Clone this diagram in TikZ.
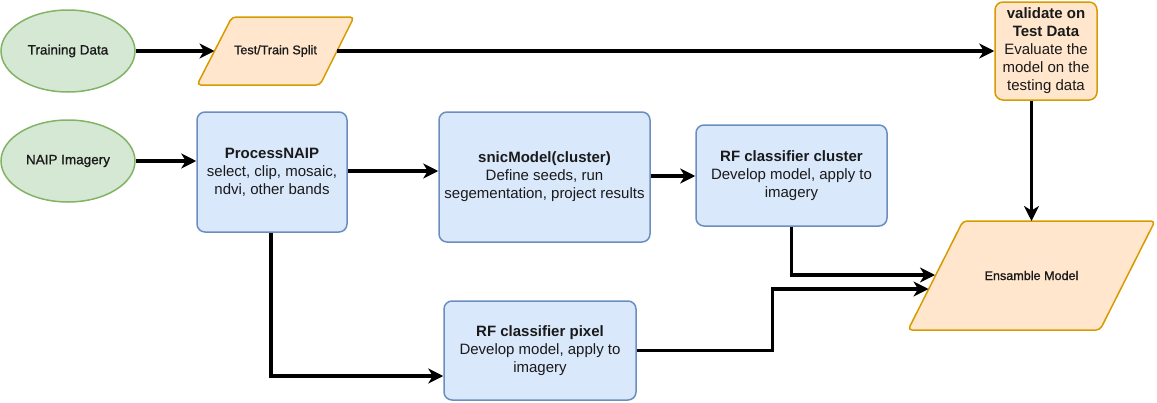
\documentclass[tikz,border=0pt]{standalone}
\usepackage{fontspec}
\setmainfont{Liberation Sans}
\newfontfamily\medfont[FakeBold=1]{Liberation Sans}
\usetikzlibrary{shapes.geometric,arrows.meta,calc}
\definecolor{gfill}{HTML}{D5E8D4}
\definecolor{gline}{HTML}{82B366}
\definecolor{bfill}{HTML}{DAE8FC}
\definecolor{bline}{HTML}{6C8EBF}
\definecolor{ofill}{HTML}{FFE6CC}
\definecolor{oline}{HTML}{D79B00}
\definecolor{txt}{HTML}{1A1A1A}
\tikzset{
  oval/.style={ellipse, draw=gline, fill=gfill, line width=1.5pt, minimum width=134pt, minimum height=82pt, inner sep=0pt, text=txt, font=\medfont\fontsize{13.5}{16}\selectfont},
  pbox/.style={draw=bline, fill=bfill, rounded corners=8pt, line width=1.5pt, inner sep=0pt, align=center, text=txt, font=\fontsize{15}{18}\selectfont},
  vbox/.style={draw=oline, fill=ofill, rounded corners=8pt, line width=1.5pt, inner sep=0pt, align=center, text=txt, font=\fontsize{15}{18}\selectfont},
  parashape/.style={draw=oline, fill=ofill, rounded corners=4pt, line width=1.5pt},
  ptext/.style={inner sep=0pt, text=txt, font=\medfont\fontsize{12.6}{15}\selectfont},
  arr/.style={line width=3.3pt, -{Stealth[length=15pt, width=15pt, inset=4.5pt]}, black}
}
\begin{document}
\begin{tikzpicture}[x=1pt, y=-1pt]
\useasboundingbox (0,0) rectangle (1157,402);

\node[oval] (train) at (68,51) {Training Data};
\node[oval] (naip) at (68,161) {NAIP Imagery};

\draw[parashape] (197,85) -- (232,17) -- (354,17) -- (320,85) -- cycle;
\node[ptext] (split) at (275.5,51) {Test/Train Split};
\coordinate (splitin) at (214.5,51);
\coordinate (splitout) at (337,51);

\node[vbox, minimum width=102pt, minimum height=98pt] (val) at (1046,51) {\textbf{validate on}\\\textbf{Test Data}\\Evaluate the\\model on the\\testing data};
\node[pbox, minimum width=150pt, minimum height=120pt] (proc) at (272,172) {\textbf{ProcessNAIP}\\select, clip, mosaic,\\ndvi, other bands};
\node[pbox, minimum width=211pt, minimum height=130pt] (snic) at (544.5,177) {\textbf{snicModel(cluster)}\\Define seeds, run\\segementation, project results};
\node[pbox, minimum width=191pt, minimum height=101pt] (rfc) at (791.5,175.5) {\textbf{RF classifier cluster}\\Develop model, apply to\\imagery};
\node[pbox, minimum width=192pt, minimum height=99pt] (rfp) at (540,350.5) {\textbf{RF classifier pixel}\\Develop model, apply to\\imagery};

\draw[parashape] (908,330) -- (963,221) -- (1155,221) -- (1100,330) -- cycle;
\node[ptext] (ens) at (1031.5,275.5) {Ensamble Model};
\coordinate (enstop) at (1031.5,221);
\coordinate (ensa) at (935,275);
\coordinate (ensb) at (928.5,289);

\draw[arr] (train.east) -- (splitin);
\draw[arr] (splitout) -- (val.west);
\draw[arr] (naip.east) -- (naip.east -| proc.west);
\draw[arr] ($(proc.east)+(0,-1)$) -- ($(proc.east -| snic.west)+(0,-1)$);
\draw[arr] ($(snic.east)+(0,-1)$) -- ($(snic.east -| rfc.west)+(0,-1)$);
\draw[arr] (val.south -| enstop) -- (enstop);
\draw[arr] (rfc.south) |- (ensa);
\draw[arr] ($(proc.south)+(-1,0)$) |- ($(rfp.west)+(0,25.5)$);
\draw[arr] (rfp.east) -- ++(136,0) |- (ensb);
\end{tikzpicture}
\end{document}
